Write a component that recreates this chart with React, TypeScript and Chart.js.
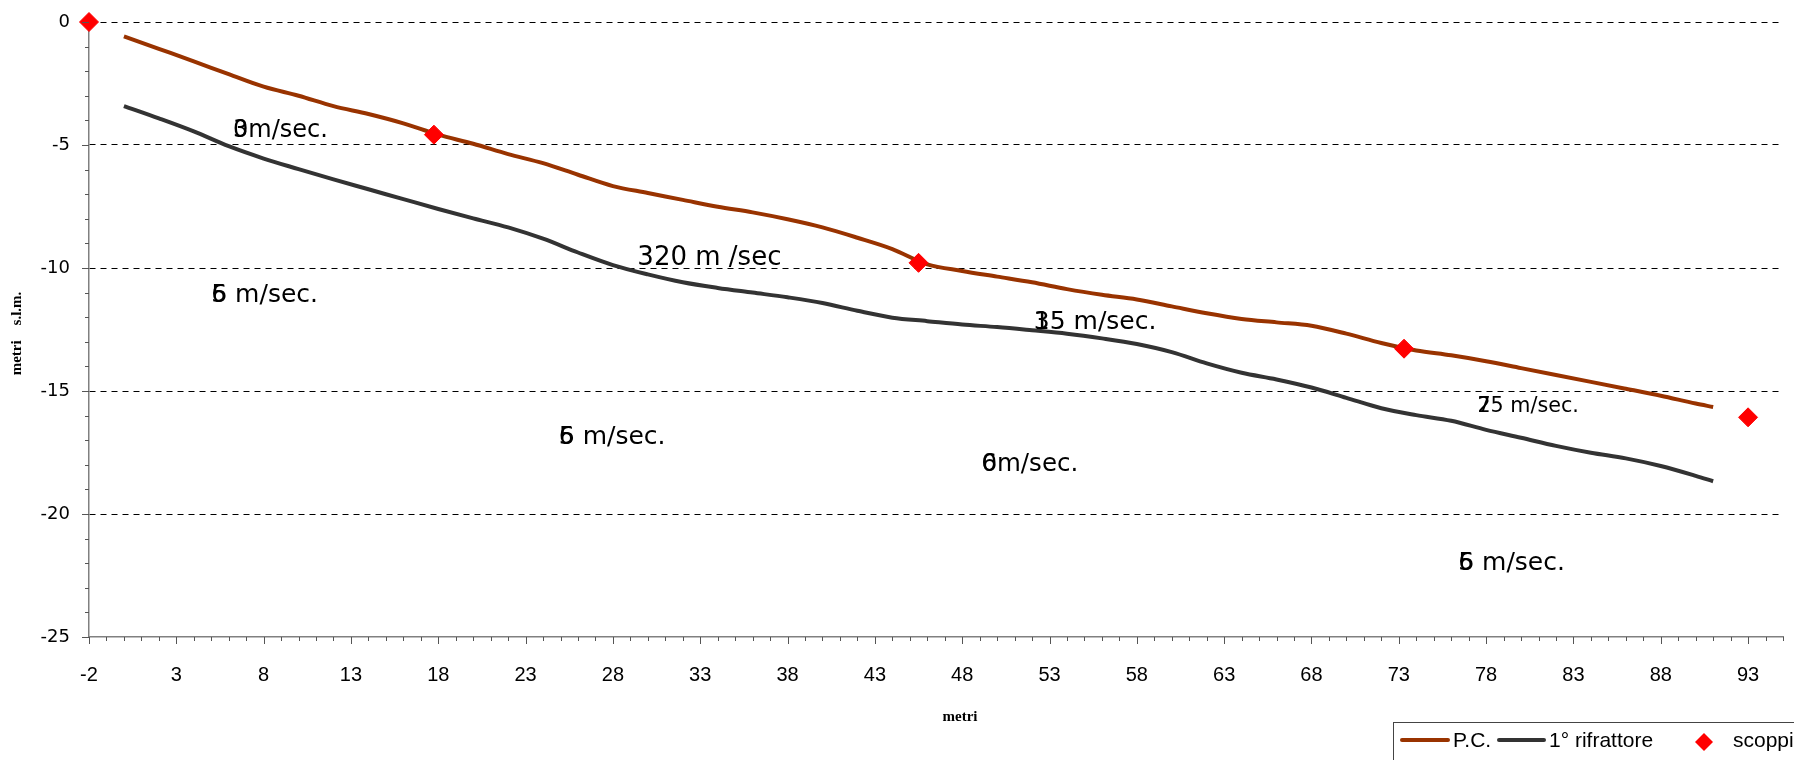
import React, { useEffect, useRef } from 'react';
import { Chart, registerables } from 'chart.js';

Chart.register(...registerables);

// ---------- data ----------
const seriesNames = ['P.C.', '1° rifrattore', 'scoppi'];

const pcX = [0, 2, 4, 6, 8, 10, 12, 14, 16, 18, 20, 22, 24, 26, 28, 30, 32, 34, 36, 38, 40, 42, 44, 46, 48, 50, 52, 54, 56, 58, 60, 62, 64, 66, 68, 70, 72, 74, 76, 78, 80, 82, 84, 86, 88, 90, 91];
const pcY = [-0.58, -1.09, -1.6, -2.12, -2.63, -3.0, -3.42, -3.74, -4.12, -4.58, -4.95, -5.37, -5.74, -6.21, -6.67, -6.95, -7.23, -7.51, -7.74, -8.02, -8.35, -8.77, -9.23, -9.85, -10.12, -10.35, -10.58, -10.86, -11.09, -11.28, -11.56, -11.84, -12.07, -12.21, -12.35, -12.67, -13.05, -13.35, -13.55, -13.79, -14.07, -14.35, -14.63, -14.91, -15.19, -15.51, -15.65];

const rifX = [0, 2, 4, 6, 8, 10, 12, 14, 16, 18, 20, 22, 24, 26, 28, 30, 32, 34, 36, 38, 40, 42, 44, 46, 48, 50, 52, 54, 56, 58, 60, 62, 64, 66, 68, 70, 72, 74, 76, 78, 80, 82, 84, 86, 88, 90, 91];
const rifY = [-3.42, -3.92, -4.45, -5.05, -5.55, -5.98, -6.4, -6.8, -7.2, -7.6, -7.98, -8.35, -8.81, -9.37, -9.88, -10.26, -10.58, -10.81, -11.0, -11.19, -11.42, -11.74, -12.02, -12.16, -12.3, -12.4, -12.53, -12.67, -12.86, -13.09, -13.42, -13.88, -14.26, -14.53, -14.86, -15.28, -15.7, -15.98, -16.21, -16.58, -16.9, -17.23, -17.51, -17.74, -18.05, -18.45, -18.67];

const scoppiX = [-2, 17.75, 45.5, 73.3, 93];
const scoppiY = [0, -4.58, -9.79, -13.28, -16.07];

const xTickLabels = [-2, 3, 8, 13, 18, 23, 28, 33, 38, 43, 48, 53, 58, 63, 68, 73, 78, 83, 88, 93];
const yTickLabels = [0, -5, -10, -15, -20, -25];

const xTitle = 'metri';
const yTitle = 'metri    s.l.m.';

// velocity notes (data coordinates), overlapped leading glyphs, rest of text
const noteX = [6.25, 5.0, 29.4, 24.9, 52.1, 49.1, 77.5, 76.4];
const noteY = [-4.42, -11.13, -9.6, -16.9, -12.22, -18.0, -15.64, -22.02];
const noteLead = [['3', '0'], ['6', '5'], [], ['6', '5'], ['3', '1'], ['0', '6'], ['2', '7'], ['6', '5']];
const noteText = ['m/sec.', ' m/sec.', '320 m /sec', ' m/sec.', '5 m/sec.', 'm/sec.', '5 m/sec.', ' m/sec.'];

// ---------- styles ----------
const BROWN = '#993300';
const GRAY = '#333333';
const RED = '#ff0000';
const noteFonts = [24, 25, 26, 25, 25, 24.5, 20.7, 25];

const decor = {
  id: 'decor',
  afterDraw(chart: any) {
    const { ctx, chartArea, scales } = chart;
    const xs = scales.x;
    const ys = scales.y;
    ctx.save();

    // tick marks (major + minor)
    ctx.strokeStyle = '#555';
    ctx.lineWidth = 1;
    ctx.beginPath();
    for (let v = Math.ceil(xs.min); v <= xs.max; v++) {
      const px = Math.round(xs.getPixelForValue(v)) + 0.5;
      const len = xTickLabels.includes(v) ? 7 : 4;
      ctx.moveTo(px, chartArea.bottom);
      ctx.lineTo(px, chartArea.bottom + len);
    }
    for (let v = Math.ceil(ys.min); v <= ys.max; v++) {
      const py = Math.round(ys.getPixelForValue(v)) + 0.5;
      const len = yTickLabels.includes(v) ? 7 : 4;
      ctx.moveTo(chartArea.left - len, py);
      ctx.lineTo(chartArea.left, py);
    }
    ctx.stroke();

    // notes
    ctx.fillStyle = '#000';
    ctx.textBaseline = 'middle';
    ctx.textAlign = 'left';
    noteX.forEach((nx, i) => {
      const px = xs.getPixelForValue(nx);
      const py = ys.getPixelForValue(noteY[i]);
      ctx.font = `${noteFonts[i]}px "DejaVu Sans"`;
      let w = 0;
      noteLead[i].forEach((g) => {
        ctx.fillText(g, px, py);
        w = Math.max(w, ctx.measureText(g).width);
      });
      ctx.fillText(noteText[i], px + w, py);
    });

    // axis titles
    ctx.font = 'bold 15px "Liberation Serif"';
    ctx.textAlign = 'center';
    ctx.fillText(xTitle, (chartArea.left + chartArea.right) / 2 + 24, chartArea.bottom + 80);
    ctx.save();
    ctx.translate(17, (chartArea.top + chartArea.bottom) / 2 + 4);
    ctx.rotate(-Math.PI / 2);
    ctx.fillText(yTitle, 0, 0);
    ctx.restore();

    // legend
    const ds = chart.data.datasets;
    const lx = 1393;
    const ly = 722;
    ctx.strokeStyle = '#444';
    ctx.lineWidth = 1;
    ctx.strokeRect(lx + 0.5, ly + 0.5, 500, 100);
    const cy = 741;
    ctx.font = '21px "Liberation Sans"';
    ctx.textAlign = 'left';
    ctx.lineCap = 'round';
    ctx.lineWidth = 4;
    ctx.strokeStyle = ds[0].borderColor;
    ctx.beginPath();
    ctx.moveTo(lx + 9, cy - 1);
    ctx.lineTo(lx + 55, cy - 1);
    ctx.stroke();
    ctx.fillText(ds[0].label, lx + 60, cy);
    ctx.strokeStyle = ds[1].borderColor;
    ctx.beginPath();
    ctx.moveTo(lx + 106, cy - 1);
    ctx.lineTo(lx + 151, cy - 1);
    ctx.stroke();
    ctx.fillText(ds[1].label, lx + 156, cy);
    ctx.fillStyle = ds[2].pointBackgroundColor;
    const dx = lx + 311;
    ctx.beginPath();
    ctx.moveTo(dx - 9, cy + 1);
    ctx.lineTo(dx, cy - 8);
    ctx.lineTo(dx + 9, cy + 1);
    ctx.lineTo(dx, cy + 10);
    ctx.closePath();
    ctx.fill();
    ctx.fillStyle = '#000';
    ctx.fillText(ds[2].label, lx + 340, cy);

    ctx.restore();
  },
};

export default function App() {
  const ref = useRef<HTMLCanvasElement>(null);

  useEffect(() => {
    const canvas = ref.current;
    if (!canvas) return;
    const chart = new Chart(canvas, {
      type: 'line',
      data: {
        datasets: [
          {
            label: seriesNames[0],
            data: pcX.map((x, i) => ({ x, y: pcY[i] })),
            borderColor: BROWN,
            backgroundColor: BROWN,
            borderWidth: 4,
            pointRadius: 0,
            cubicInterpolationMode: 'monotone',
            order: 1,
          },
          {
            label: seriesNames[1],
            data: rifX.map((x, i) => ({ x, y: rifY[i] })),
            borderColor: GRAY,
            backgroundColor: GRAY,
            borderWidth: 4,
            pointRadius: 0,
            cubicInterpolationMode: 'monotone',
            order: 1,
          },
          {
            label: seriesNames[2],
            data: scoppiX.map((x, i) => ({ x, y: scoppiY[i] })),
            showLine: false,
            pointStyle: 'rectRot',
            pointRadius: 9.5,
            pointBackgroundColor: RED,
            pointBorderColor: RED,
            pointBorderWidth: 1,
            borderColor: RED,
            backgroundColor: RED,
            clip: false,
            order: 0,
          },
        ],
      } as any,
      options: {
        responsive: false,
        animation: false,
        devicePixelRatio: 1,
        layout: { padding: { top: 22, right: 11, left: 0, bottom: 0 } },
        plugins: {
          legend: { display: false },
          tooltip: { enabled: false },
        },
        scales: {
          x: {
            type: 'linear',
            min: -2,
            max: 95,
            afterBuildTicks: (s: any) => {
              s.ticks = xTickLabels.map((v) => ({ value: v }));
            },
            afterFit: (s: any) => {
              s.height = 123;
              s.paddingLeft = 0;
              s.paddingRight = 0;
              s.paddingTop = 0;
              s.paddingBottom = 0;
            },
            ticks: {
              autoSkip: false,
              maxRotation: 0,
              padding: 26,
              color: '#000',
              font: { family: 'Liberation Sans', size: 20 },
              callback: (v: any) => String(v),
            },
            grid: { display: false, drawTicks: false },
            border: { display: true, color: '#808080', width: 1.5 },
          },
          y: {
            type: 'linear',
            min: -25,
            max: 0,
            afterBuildTicks: (s: any) => {
              s.ticks = yTickLabels.map((v) => ({ value: v }));
            },
            afterFit: (s: any) => {
              s.width = 89;
              s.paddingLeft = 0;
              s.paddingRight = 0;
              s.paddingTop = 0;
              s.paddingBottom = 0;
            },
            ticks: {
              padding: 19,
              color: '#000',
              font: { family: 'DejaVu Sans', size: 18 },
              callback: (v: any) => String(v),
            },
            grid: {
              drawTicks: false,
              lineWidth: 1,
              color: (c: any) => (c.tick && c.tick.value > -25 ? '#000' : 'rgba(0,0,0,0)'),
            },
            border: { display: true, color: '#808080', width: 1.5, dash: [6, 5] },
          },
        },
      } as any,
      plugins: [decor],
    });
    return () => chart.destroy();
  }, []);

  return (
    <div style={{ position: 'absolute', left: 0, top: 0, width: 1794, height: 760, background: '#fff' }}>
      <canvas ref={ref} width={1794} height={760} style={{ display: 'block', width: 1794, height: 760 }} />
    </div>
  );
}
